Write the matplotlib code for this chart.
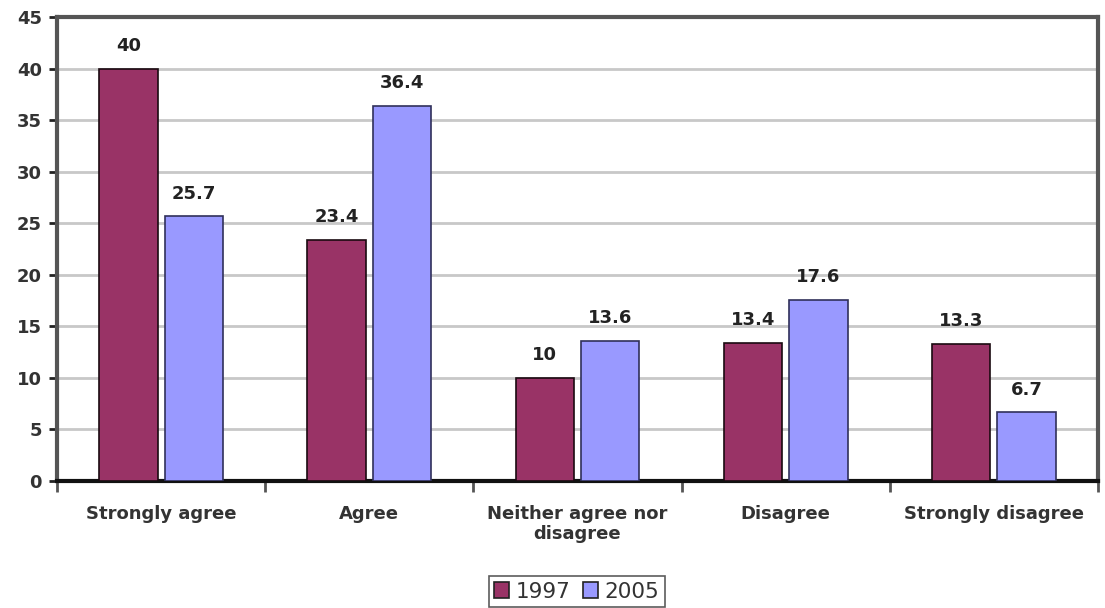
import numpy as np
import matplotlib.pyplot as plt

# data
categories = ['Strongly agree', 'Agree', 'Neither agree nor\ndisagree', 'Disagree', 'Strongly disagree']
years = ['1997', '2005']
values_1997 = [40, 23.4, 10, 13.4, 13.3]
values_2005 = [25.7, 36.4, 13.6, 17.6, 6.7]
y_ticks = list(range(0, 50, 5))

colors = ['#993366', '#9999ff']

fig = plt.figure(figsize=(11.05, 6.08), dpi=100)
ax = fig.add_axes([0.0516, 0.2089, 0.9421, 0.7631])

x = np.arange(len(categories))
w = 0.28
gap = 0.017
bars1 = ax.bar(x - w / 2 - gap, values_1997, w, color=colors[0], edgecolor='#1a0a10', linewidth=1.2, label=years[0], zorder=3)
bars2 = ax.bar(x + w / 2 + gap, values_2005, w, color=colors[1], edgecolor='#30305a', linewidth=1.2, label=years[1], zorder=3)

for bars, vals in [(bars1, values_1997), (bars2, values_2005)]:
    for b, v in zip(bars, vals):
        ax.text(b.get_x() + b.get_width() / 2, v + 1.3, f'{v:g}', ha='center', va='bottom',
                fontsize=13, fontweight='bold', color='#222222')

ax.set_xlim(-0.5, len(categories) - 0.5)
ax.set_ylim(0, 45)
ax.set_yticks(y_ticks)
ax.set_yticklabels([str(t) for t in y_ticks], fontsize=13, fontweight='bold', color='#333333')
ax.yaxis.grid(True, color='#c8c8c8', linewidth=2, zorder=0)
ax.tick_params(axis='y', length=6, width=2, color='#222222', pad=5)

ax.set_xticks(x)
ax.set_xticklabels(categories, fontsize=13, fontweight='bold', color='#333333', linespacing=1.15)
ax.tick_params(axis='x', length=0, pad=17)
ax.set_xticks(np.arange(-0.5, len(categories)), minor=True)
ax.tick_params(axis='x', which='minor', length=8, width=2, color='#555555')

for side in ['left', 'top', 'right']:
    ax.spines[side].set_color('#555555')
    ax.spines[side].set_linewidth(3)
ax.spines['bottom'].set_color('#111111')
ax.spines['bottom'].set_linewidth(3)

leg = fig.legend(loc='lower center', bbox_to_anchor=(0.522, 0.0), ncol=2, fontsize=15.5, frameon=True,
                 fancybox=False, edgecolor='#333333', handlelength=0.7, handleheight=0.7,
                 handletextpad=0.3, columnspacing=0.6, borderpad=0.25, borderaxespad=0.05)
leg.get_frame().set_linewidth(1.2)
for t in leg.get_texts():
    t.set_color('#333333')
for h in leg.legend_handles:
    h.set_edgecolor('#222222')

fig.savefig('out.png', dpi=100)
